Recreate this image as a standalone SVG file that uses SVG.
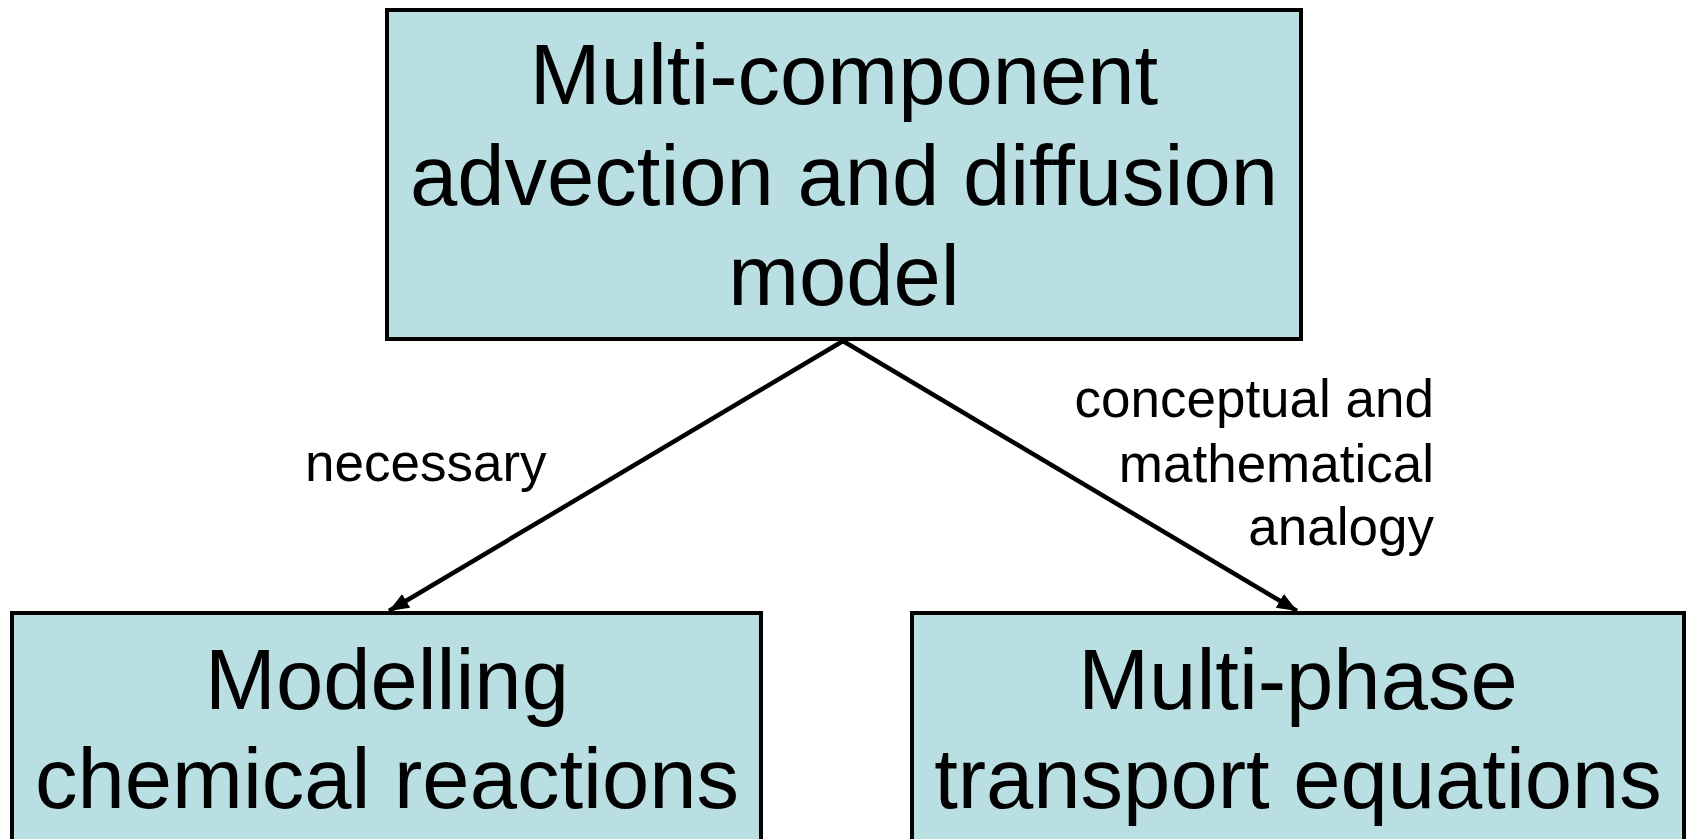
<svg xmlns="http://www.w3.org/2000/svg" width="1689" height="839" viewBox="0 0 1689 839">
<style>
.box{fill:#BADFE3;stroke:#000;stroke-width:4}
.big{font-family:"Liberation Sans",Arial,sans-serif;font-size:85px;fill:#000;text-anchor:middle}
.lbl{font-family:"Liberation Sans",Arial,sans-serif;font-size:53px;fill:#000}
.edge{stroke:#000;stroke-width:4.5;fill:none}
</style>
<defs>
<marker id="arr" markerUnits="userSpaceOnUse" markerWidth="22" markerHeight="18" refX="20" refY="8" orient="auto">
<path d="M0,0 L20,8 L0,16 Z" fill="#000"/>
</marker>
</defs>
<rect width="1689" height="839" fill="#fff"/>
<g id="top">
<rect class="box" x="387" y="10" width="914" height="329"/>
<text class="big" x="844" y="104">Multi-component</text>
<text class="big" x="844" y="205">advection and diffusion</text>
<text class="big" x="844" y="305">model</text>
</g>
<g id="left">
<rect class="box" x="12" y="613" width="749" height="260"/>
<text class="big" x="387" y="709">Modelling</text>
<text class="big" x="387" y="808">chemical reactions</text>
</g>
<g id="right">
<rect class="box" x="912" y="613" width="772" height="260"/>
<text class="big" x="1298" y="709">Multi-phase</text>
<text class="big" x="1298" y="808">transport equations</text>
</g>
<g id="connectors">
<line class="edge" x1="843" y1="341" x2="389" y2="611" marker-end="url(#arr)"/>
<line class="edge" x1="843" y1="341" x2="1297" y2="611" marker-end="url(#arr)"/>
<text class="lbl" x="305" y="481">necessary</text>
<text class="lbl" x="1434" y="417" text-anchor="end">conceptual and</text>
<text class="lbl" x="1434" y="482" text-anchor="end">mathematical</text>
<text class="lbl" x="1434" y="545" text-anchor="end">analogy</text>
</g>
</svg>
